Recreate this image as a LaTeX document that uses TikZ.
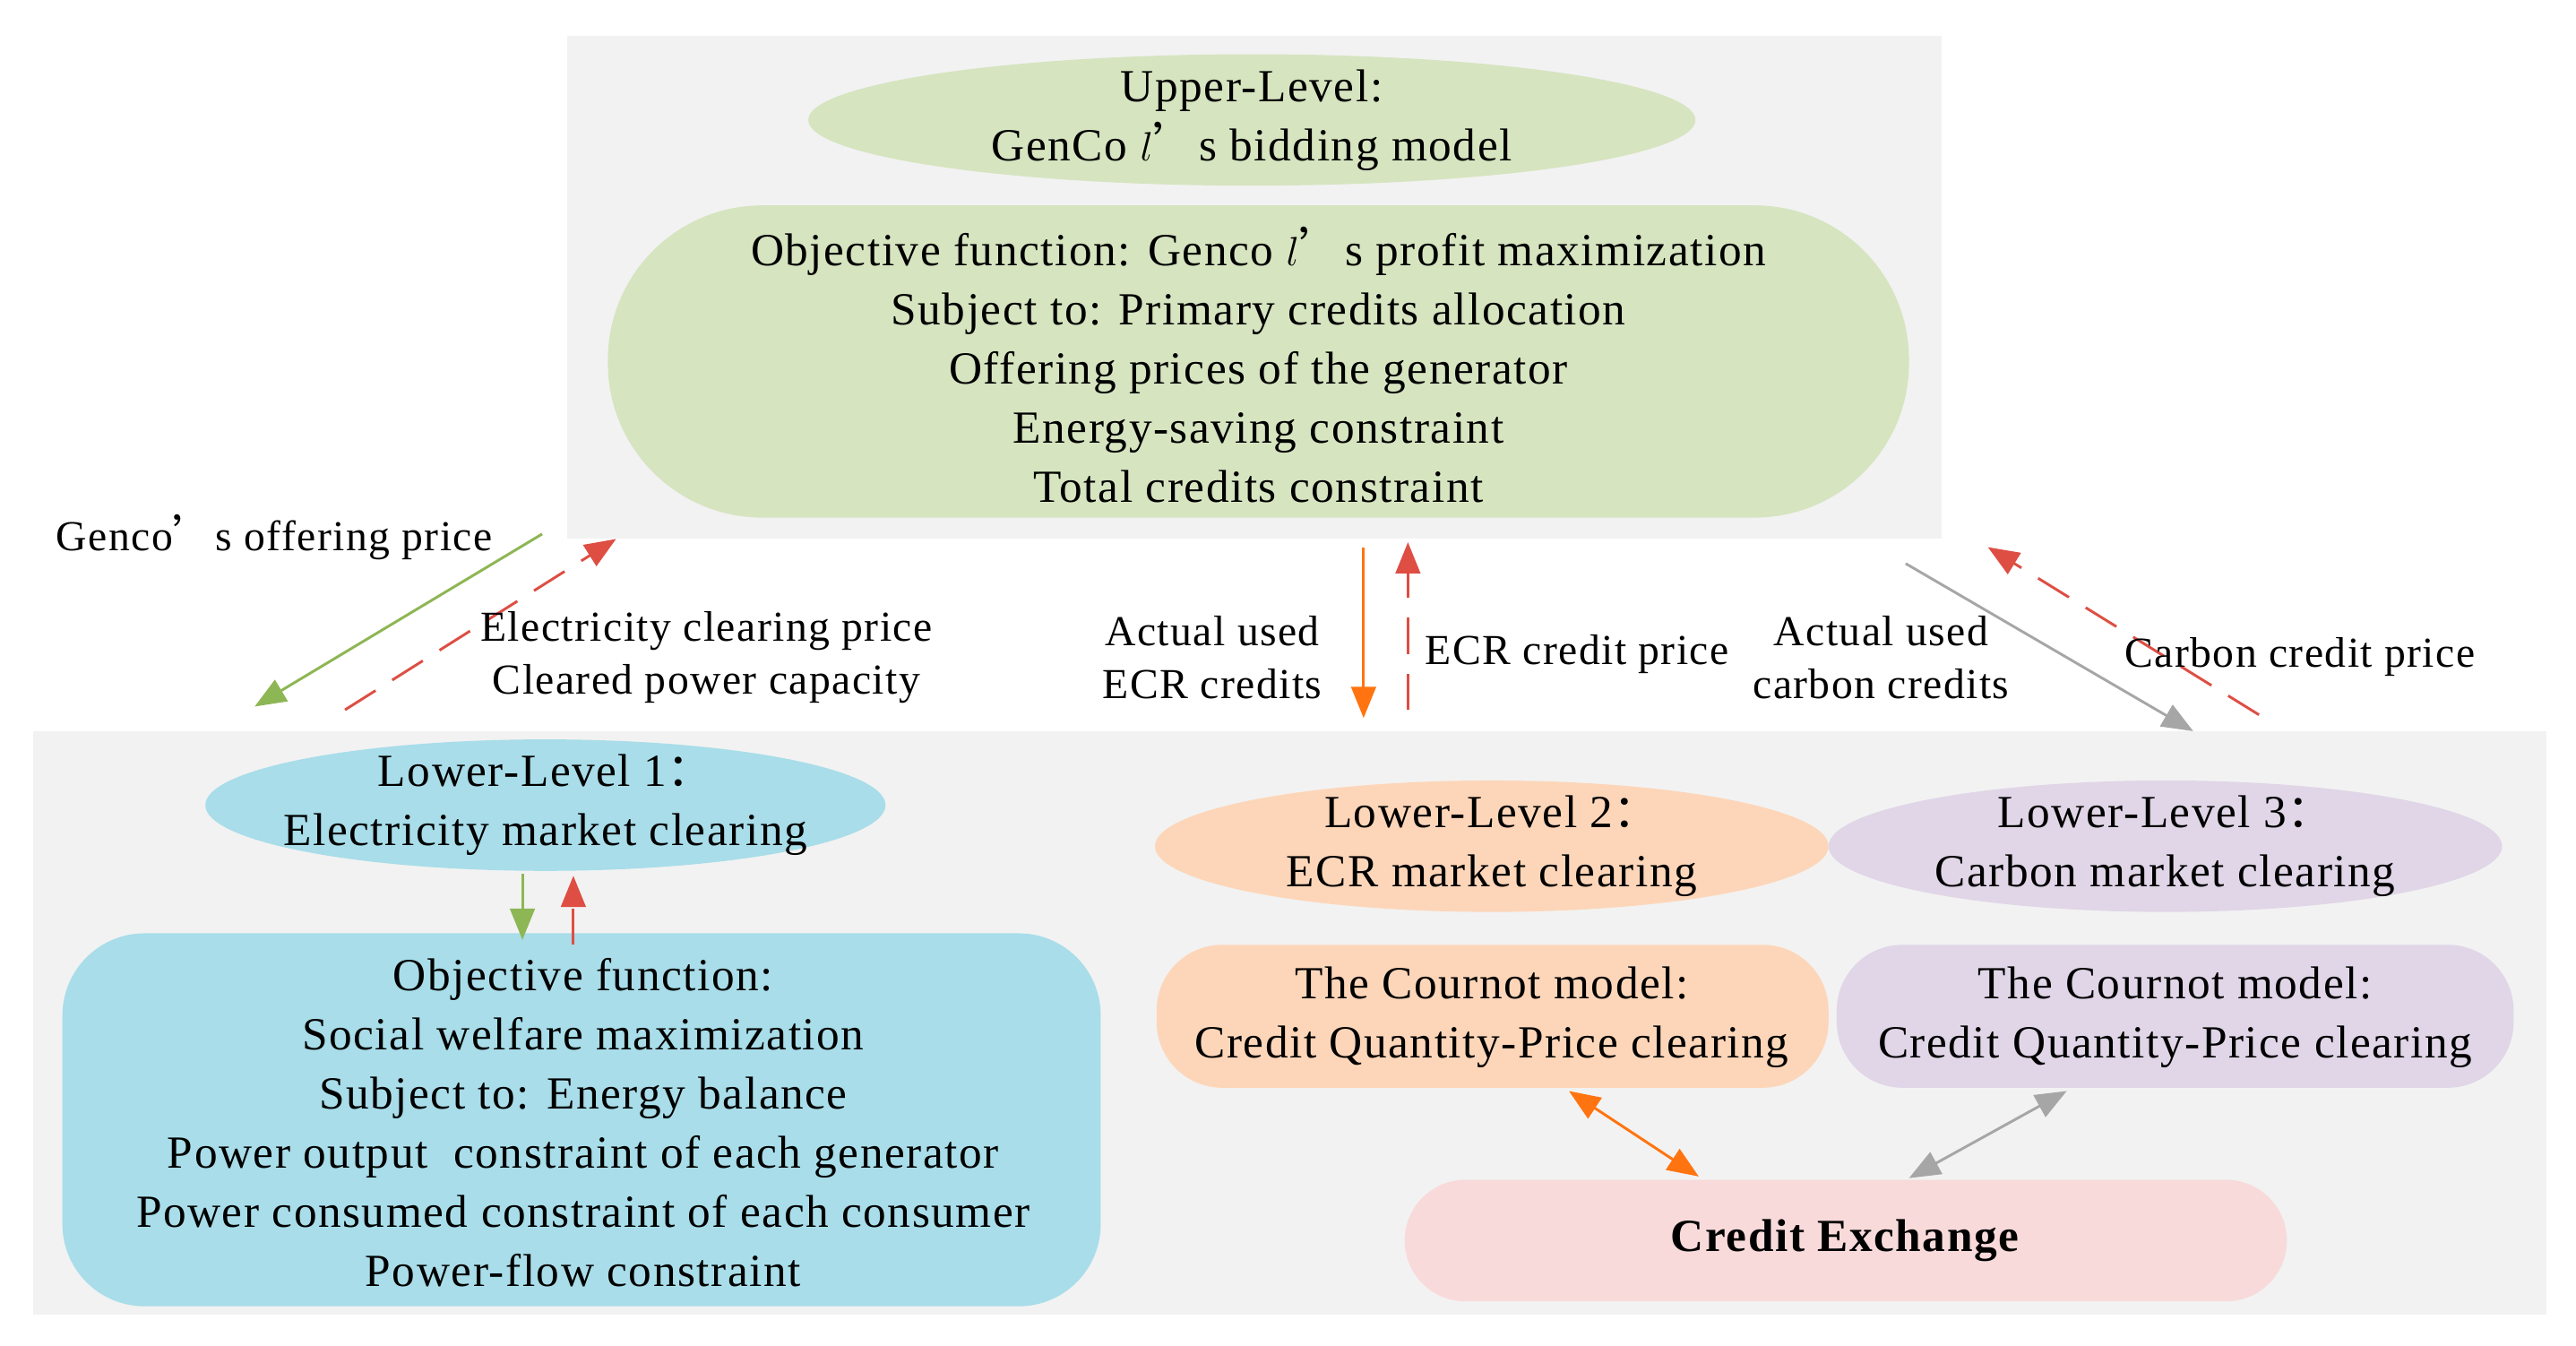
\documentclass[tikz,border=0pt]{standalone}
\usepackage{fontspec}
\setmainfont{Liberation Serif}[LetterSpace=3]
\newfontfamily\cjk{Noto Sans CJK SC}
\newcommand{\fcol}{{\cjk ：}}
\newcommand{\fap}{{\cjk ’}}
\usetikzlibrary{arrows.meta,shapes.geometric}
\definecolor{bg}{HTML}{F2F2F2}
\definecolor{gr}{HTML}{D6E4C0}
\definecolor{bl}{HTML}{A8DDE9}
\definecolor{pe}{HTML}{FDD6B9}
\definecolor{la}{HTML}{E0D6E7}
\definecolor{pk}{HTML}{F9DADA}
\definecolor{agr}{HTML}{8DB654}
\definecolor{ard}{HTML}{DE4E43}
\definecolor{aor}{HTML}{FF7410}
\definecolor{agy}{HTML}{A6A6A6}
\begin{document}
\begin{tikzpicture}[x=1pt,y=-1pt,
  every node/.style={font=\fontsize{28}{36}\selectfont,align=center,inner sep=0pt},
  lbl/.style={font=\fontsize{26}{32}\selectfont},
  tip/.style={-{Triangle[length=19pt,width=15pt]},line width=1.6pt},
  dtip/.style={{Triangle[length=19pt,width=15pt]}-{Triangle[length=19pt,width=15pt]},line width=1.6pt},
  dsh/.style={dash pattern=on 22pt off 12pt}]
\useasboundingbox (0,0) rectangle (1568,819);
\fill[bg] (345,22) rectangle (1182,328);
\fill[bg] (20,445) rectangle (1550,800);
\fill[gr] (762,73) ellipse [x radius=270pt, y radius=40pt];
\node (ul) at (762,73) {Upper-Level:\\GenCo $l$\fap s bidding model};
\fill[gr,rounded corners=94pt] (370,125) rectangle (1162,315);
\node (uo) at (766,222) {Objective function: Genco $l$\fap s profit maximization\\Subject to: Primary credits allocation\\Offering prices of the generator\\Energy-saving constraint\\Total credits constraint};
\fill[bl] (332,490) ellipse [x radius=207pt, y radius=40pt];
\node (l1) at (332,490) {Lower-Level 1\fcol\\Electricity market clearing};
\fill[bl,rounded corners=50pt] (38,568) rectangle (670,795);
\node (lo) at (355,683) {Objective function:\\Social welfare maximization\\Subject to: Energy balance\\Power output\ \ constraint of each generator\\Power consumed constraint of each consumer\\Power-flow constraint};
\fill[pe] (908,515) ellipse [x radius=205pt, y radius=40pt];
\node (l2) at (908,515) {Lower-Level 2\fcol\\ECR market clearing};
\fill[la] (1318,515) ellipse [x radius=205pt, y radius=40pt];
\node (l3) at (1318,515) {Lower-Level 3\fcol\\Carbon market clearing};
\fill[pe,rounded corners=40pt] (704,575) rectangle (1113,662);
\node (ob) at (908,619) {The Cournot model:\\Credit Quantity-Price clearing};
\fill[la,rounded corners=40pt] (1118,575) rectangle (1530,662);
\node (pb) at (1324,619) {The Cournot model:\\Credit Quantity-Price clearing};
\fill[pk,rounded corners=37pt] (855,718) rectangle (1392,792);
\node[font=\fontsize{28}{36}\selectfont\bfseries] (ce) at (1123,755) {Credit Exchange};
\coordinate (a1) at (330,325); \coordinate (a2) at (155,430);
\coordinate (b1) at (210,432); \coordinate (b2) at (375,328);
\coordinate (c1) at (830,333); \coordinate (c2) at (830,437);
\coordinate (d1) at (857,432); \coordinate (d2) at (857,330);
\coordinate (e1) at (1160,343); \coordinate (e2) at (1335,445);
\coordinate (f1) at (1375,435); \coordinate (f2) at (1210,333);
\coordinate (g1) at (318,532); \coordinate (g2) at (318,572);
\coordinate (h1) at (349,575); \coordinate (h2) at (349,533);
\coordinate (i1) at (955,664); \coordinate (i2) at (1034,716);
\coordinate (j1) at (1162,717); \coordinate (j2) at (1258,664);
\draw[tip,agr] (a1) -- (a2);
\draw[tip,ard,dsh] (b1) -- (b2);
\draw[tip,aor] (c1) -- (c2);
\draw[tip,ard,dsh] (d1) -- (d2);
\draw[tip,agy] (e1) -- (e2);
\draw[tip,ard,dsh] (f1) -- (f2);
\draw[tip,agr] (g1) -- (g2);
\draw[tip,ard,dsh] (h1) -- (h2);
\draw[dtip,aor] (i1) -- (i2);
\draw[dtip,agy] (j1) -- (j2);
\node[lbl] (t1) at (167,327) {Genco\fap s offering price};
\node[lbl] (t2) at (430,400) {Electricity clearing price\\Cleared power capacity};
\node[lbl] (t3) at (738,400) {Actual used\\ECR credits};
\node[lbl] (t4) at (960,398) {ECR credit price};
\node[lbl] (t5) at (1145,400) {Actual used\\carbon credits};
\node[lbl] (t6) at (1400,400) {Carbon credit price};
\end{tikzpicture}
\end{document}
